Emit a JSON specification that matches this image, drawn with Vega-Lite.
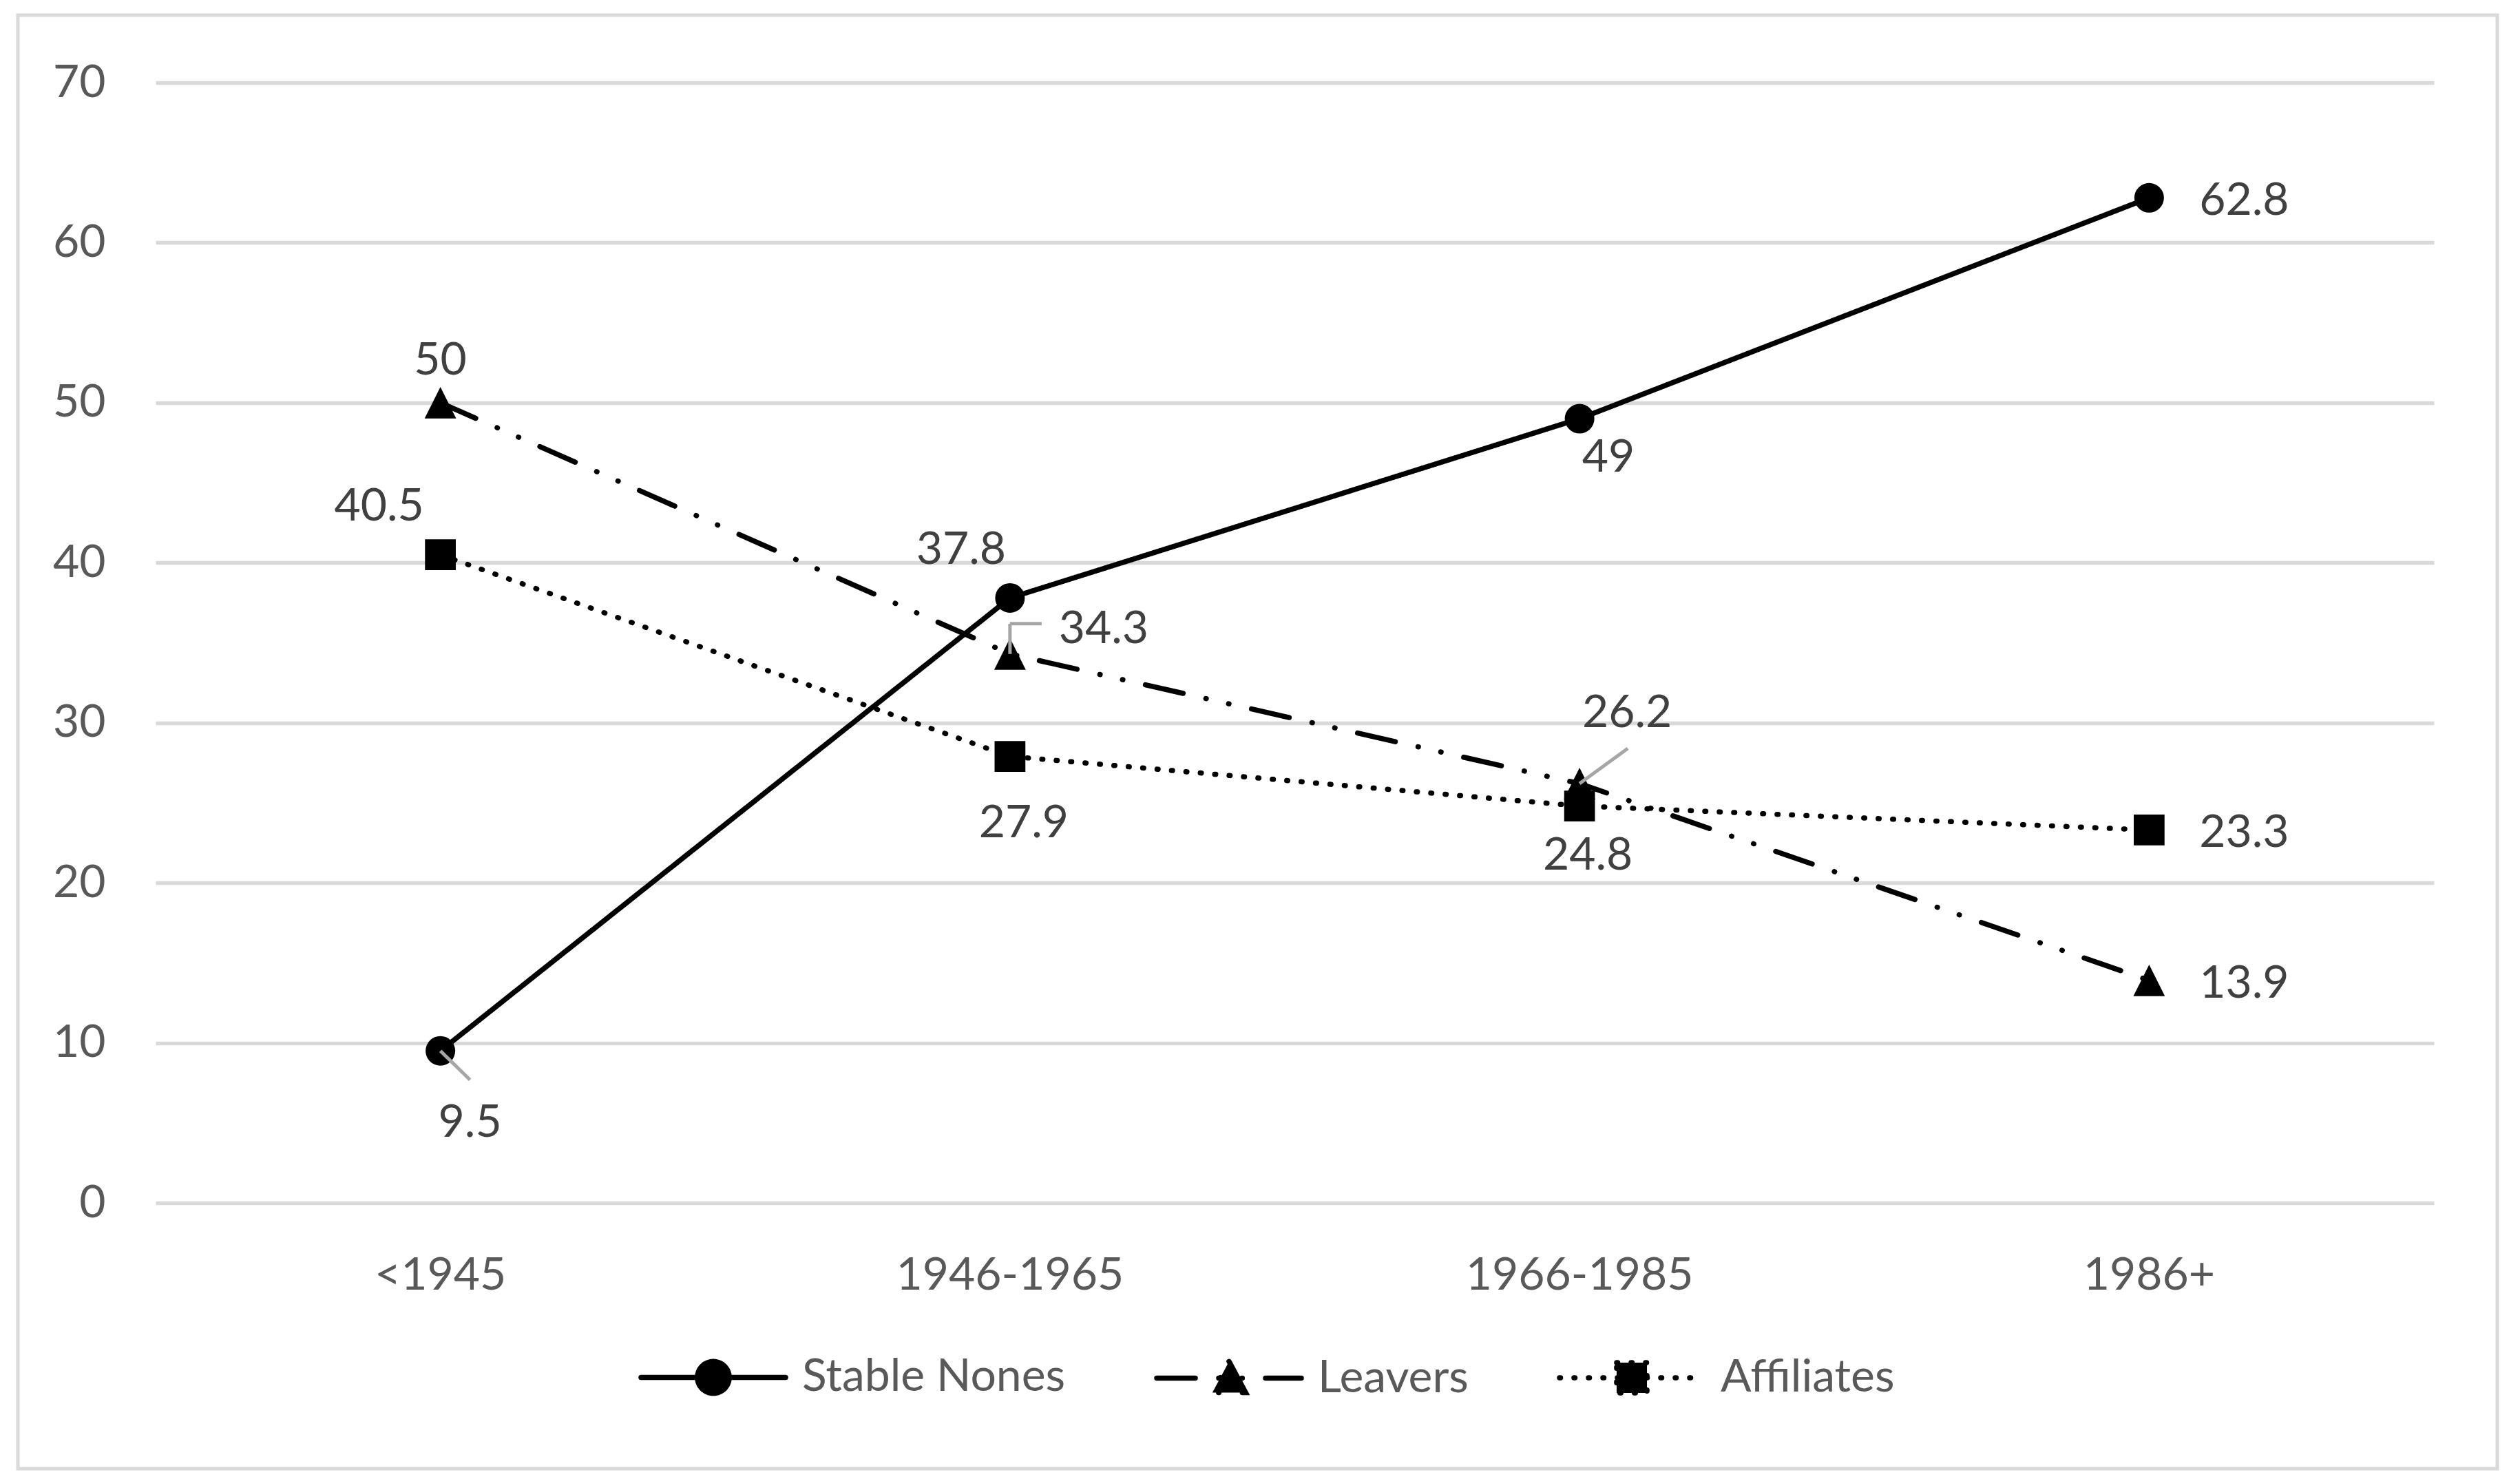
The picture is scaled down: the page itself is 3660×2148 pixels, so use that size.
{
  "$schema": "https://vega.github.io/schema/vega-lite/v6.json",
  "width": 3601,
  "height": 2111,
  "autosize": {"type": "none"},
  "padding": {"left": 26, "top": 22, "right": 33, "bottom": 15},
  "background": "white",
  "config": {
    "font": "Lato",
    "view": {"stroke": "#d9d9d9", "strokeWidth": 5, "fill": "white"},
    "axis": {"labelFont": "Lato", "labelFontSize": 66, "labelColor": "#595959", "ticks": false, "domain": false, "labelLimit": 1000}
  },
  "data": {
    "values": [
      {"series": "Stable Nones", "period": "<1945", "value": 9.5},
      {"series": "Stable Nones", "period": "1946-1965", "value": 37.8},
      {"series": "Stable Nones", "period": "1966-1985", "value": 49},
      {"series": "Stable Nones", "period": "1986+", "value": 62.8},
      {"series": "Leavers", "period": "<1945", "value": 50},
      {"series": "Leavers", "period": "1946-1965", "value": 34.3},
      {"series": "Leavers", "period": "1966-1985", "value": 26.2},
      {"series": "Leavers", "period": "1986+", "value": 13.9},
      {"series": "Affiliates", "period": "<1945", "value": 40.5},
      {"series": "Affiliates", "period": "1946-1965", "value": 27.9},
      {"series": "Affiliates", "period": "1966-1985", "value": 24.8},
      {"series": "Affiliates", "period": "1986+", "value": 23.3}
    ]
  },
  "encoding": {
    "x": {
      "field": "period", "type": "nominal", "bandPosition": 0.5, "sort": null,
      "scale": {"type": "band", "domain": ["<1945", "1946-1965", "1966-1985", "1986+"], "range": [200, 3509], "paddingInner": 0, "paddingOuter": 0},
      "axis": {"title": null, "offset": -386, "labelPadding": 73, "grid": false, "labelAngle": 0, "labelLimit": 1000}
    },
    "y": {
      "field": "value", "type": "quantitative",
      "scale": {"domain": [0, 70], "range": [1725, 98], "nice": false},
      "axis": {"title": null, "offset": -200, "labelPadding": 73, "values": [0, 10, 20, 30, 40, 50, 60, 70], "grid": true, "gridColor": "#d9d9d9", "gridWidth": 5.5}
    }
  },
  "layer": [
    {
      "mark": {"type": "line", "color": "black", "strokeWidth": 7.5, "strokeCap": "round", "strokeJoin": "round"},
      "encoding": {
        "strokeDash": {
          "field": "series", "type": "nominal",
          "scale": {"domain": ["Stable Nones", "Leavers", "Affiliates"], "range": [[1, 0], [56, 34, 0.5, 33.3, 0.5, 33.7], [1.5, 19.5]]},
          "legend": {
            "title": null, "orient": "none", "legendX": 901, "legendY": 1869, "direction": "horizontal",
            "symbolSize": 44100, "symbolStrokeWidth": 7.5, "symbolStrokeColor": "black", "symbolFillColor": "black",
            "labelFont": "Lato", "labelFontSize": 66, "labelColor": "#595959", "labelOffset": 20, "labelLimit": 1000, "columnPadding": 117, "padding": 0,
            "encode": {
              "symbols": {
                "update": {
                  "shape": {"signal": "datum.value === 'Stable Nones' ? 'M-1,0L1,0M-0.22,0A0.22,0.22,0,1,1,0.22,0A0.22,0.22,0,1,1,-0.22,0Z' : (datum.value === 'Leavers' ? 'M-1,0L1,0M0,-0.23L0.23,0.2L-0.23,0.2Z' : 'M-1,0L1,0M-0.21,-0.21L0.21,-0.21L0.21,0.21L-0.21,0.21Z')"},
                  "fill": {"value": "black"},
                  "stroke": {"value": "black"},
                  "strokeCap": {"value": "round"}
                }
              }
            }
          }
        }
      }
    },
    {
      "transform": [{"filter": "datum.series === 'Stable Nones'"}],
      "mark": {"type": "point", "shape": "circle", "filled": true, "color": "black", "size": 1850, "opacity": 1}
    },
    {
      "transform": [{"filter": "datum.series === 'Leavers'"}],
      "mark": {"type": "point", "shape": "M0,-1L1,1L-1,1Z", "filled": true, "color": "black", "size": 2100, "opacity": 1}
    },
    {
      "transform": [{"filter": "datum.series === 'Affiliates'"}],
      "mark": {"type": "point", "shape": "square", "filled": true, "color": "black", "size": 2000, "opacity": 1}
    },
    {
      "transform": [{"filter": "datum.series === 'Stable Nones' && datum.period === '<1945'"}],
      "mark": {"type": "rule", "color": "#a6a6a6", "strokeWidth": 5, "x2Offset": 43, "y2Offset": 42},
      "encoding": {"x2": {"field": "period", "bandPosition": 0.5}, "y2": {"field": "value"}}
    },
    {
      "transform": [{"filter": "datum.series === 'Leavers' && datum.period === '1966-1985'"}],
      "mark": {"type": "rule", "color": "#a6a6a6", "strokeWidth": 5, "x2Offset": 70, "y2Offset": -51},
      "encoding": {"x2": {"field": "period", "bandPosition": 0.5}, "y2": {"field": "value"}}
    },
    {
      "transform": [{"filter": "datum.series === 'Leavers' && datum.period === '1946-1965'"}],
      "mark": {"type": "rule", "color": "#a6a6a6", "strokeWidth": 5, "y2Offset": -44},
      "encoding": {"y2": {"field": "value"}}
    },
    {
      "transform": [{"filter": "datum.series === 'Leavers' && datum.period === '1946-1965'"}],
      "mark": {"type": "rule", "color": "#a6a6a6", "strokeWidth": 5, "yOffset": -44, "x2Offset": 46},
      "encoding": {"x2": {"field": "period", "bandPosition": 0.5}}
    },
    {
      "transform": [{"filter": "datum.period === '1986+'"}],
      "mark": {"type": "text", "font": "Lato", "fontSize": 66, "color": "#404040", "align": "center", "baseline": "middle", "dx": 138, "dy": 5},
      "encoding": {"text": {"field": "value", "type": "quantitative"}}
    },
    {
      "transform": [{"filter": "datum.series === 'Stable Nones' && datum.period === '<1945'"}],
      "mark": {"type": "text", "font": "Lato", "fontSize": 66, "color": "#404040", "align": "center", "baseline": "middle", "dx": 43, "dy": 105},
      "encoding": {"text": {"field": "value", "type": "quantitative"}}
    },
    {
      "transform": [{"filter": "datum.series === 'Stable Nones' && datum.period === '1946-1965'"}],
      "mark": {"type": "text", "font": "Lato", "fontSize": 66, "color": "#404040", "align": "center", "baseline": "middle", "dx": -71, "dy": -69},
      "encoding": {"text": {"field": "value", "type": "quantitative"}}
    },
    {
      "transform": [{"filter": "datum.series === 'Stable Nones' && datum.period === '1966-1985'"}],
      "mark": {"type": "text", "font": "Lato", "fontSize": 66, "color": "#404040", "align": "center", "baseline": "middle", "dx": 42, "dy": 57},
      "encoding": {"text": {"field": "value", "type": "quantitative"}}
    },
    {
      "transform": [{"filter": "datum.series === 'Leavers' && datum.period === '<1945'"}],
      "mark": {"type": "text", "font": "Lato", "fontSize": 66, "color": "#404040", "align": "center", "baseline": "middle", "dx": 0, "dy": -61},
      "encoding": {"text": {"field": "value", "type": "quantitative"}}
    },
    {
      "transform": [{"filter": "datum.series === 'Leavers' && datum.period === '1946-1965'"}],
      "mark": {"type": "text", "font": "Lato", "fontSize": 66, "color": "#404040", "align": "center", "baseline": "middle", "dx": 136, "dy": -36},
      "encoding": {"text": {"field": "value", "type": "quantitative"}}
    },
    {
      "transform": [{"filter": "datum.series === 'Leavers' && datum.period === '1966-1985'"}],
      "mark": {"type": "text", "font": "Lato", "fontSize": 66, "color": "#404040", "align": "center", "baseline": "middle", "dx": 69, "dy": -102},
      "encoding": {"text": {"field": "value", "type": "quantitative"}}
    },
    {
      "transform": [{"filter": "datum.series === 'Affiliates' && datum.period === '<1945'"}],
      "mark": {"type": "text", "font": "Lato", "fontSize": 66, "color": "#404040", "align": "center", "baseline": "middle", "dx": -89, "dy": -70},
      "encoding": {"text": {"field": "value", "type": "quantitative"}}
    },
    {
      "transform": [{"filter": "datum.series === 'Affiliates' && datum.period === '1946-1965'"}],
      "mark": {"type": "text", "font": "Lato", "fontSize": 66, "color": "#404040", "align": "center", "baseline": "middle", "dx": 20, "dy": 97},
      "encoding": {"text": {"field": "value", "type": "quantitative"}}
    },
    {
      "transform": [{"filter": "datum.series === 'Affiliates' && datum.period === '1966-1985'"}],
      "mark": {"type": "text", "font": "Lato", "fontSize": 66, "color": "#404040", "align": "center", "baseline": "middle", "dx": 12, "dy": 72},
      "encoding": {"text": {"field": "value", "type": "quantitative"}}
    }
  ]
}
